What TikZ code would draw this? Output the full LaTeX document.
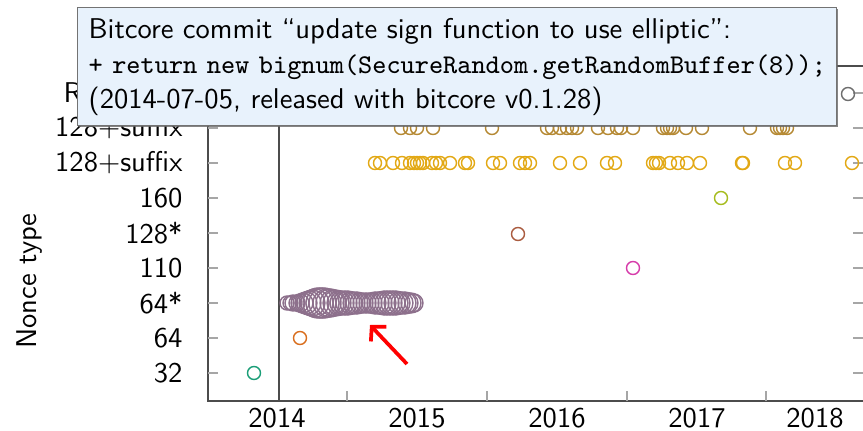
\documentclass[tikz,border=0pt]{standalone}
\usetikzlibrary{shadows,arrows.meta}

\definecolor{notefill}{RGB}{232,242,252}
\definecolor{typegreen}{RGB}{27,158,119}
\definecolor{typeorange}{RGB}{217,110,30}
\definecolor{typemauve}{RGB}{141,112,140}
\definecolor{typemagenta}{RGB}{214,60,170}
\definecolor{typebrown}{RGB}{170,92,64}
\definecolor{typelime}{RGB}{166,188,30}
\definecolor{typegold}{RGB}{226,168,20}
\definecolor{typeochre}{RGB}{181,137,51}
\definecolor{typegray}{RGB}{110,110,110}

\begin{document}
\begin{tikzpicture}[x=0.35pt,y=-0.35pt,
    font=\fontsize{10}{12.25}\selectfont\sffamily,
    nonce/.style ={circle, draw, line width=0.5pt, inner sep=0pt, minimum size=4.55pt},
    axisline/.style ={draw=black!70, line width=0.45pt},
    tickmark/.style ={draw=black!35, line width=0.45pt},
    typelabel/.style ={anchor=east, inner sep=0pt},
    note/.style ={draw=black!55, fill=notefill, line width=0.45pt, align=left,
        text width=258pt, inner xsep=3.85pt, inner ysep=3.6pt,
        drop shadow={shadow xshift=0.5pt, shadow yshift=-0.5pt, fill=black!60, opacity=0.8}}]
   \useasboundingbox (0,0) rectangle (863,431);

   % frame and ticks
   \draw[axisline] (208,66) -- (208,401) -- (863,401);
   \draw[axisline] (208,66) -- (863,66);
   \draw[axisline] (279,66) -- (279,401);
   \foreach \y in {93,128,...,373} {
     \draw[tickmark] (208,\y) -- (218,\y);
     \draw[tickmark] (853,\y) -- (863,\y);
   }
   \foreach \x in {347,487,627,766}
     \draw[tickmark] (\x,391) -- (\x,401);

   % axis labels
   \node[typelabel] (t9) at (183,93)  {RFC 6979};
   \node[typelabel] (t8) at (183,128) {128+suffix};
   \node[typelabel] (t7) at (183,163) {128+suffix};
   \node[typelabel] (t6) at (183,198) {160};
   \node[typelabel] (t5) at (183,233) {128*};
   \node[typelabel] (t4) at (183,268) {110};
   \node[typelabel] (t3) at (183,303) {64*};
   \node[typelabel] (t2) at (183,338) {64};
   \node[typelabel] (t1) at (183,373) {32};
   \node[rotate=90] (ytitle) at (30,281) {Nonce type};

   \node (y2014) at (277,418) {2014};
   \node (y2015) at (417,418) {2015};
   \node (y2016) at (557,418) {2016};
   \node (y2017) at (697,418) {2017};
   \node (y2018) at (815,418) {2018};

   % single nonces
   \node[nonce,typegreen]   (g)  at (254,373) {};
   \node[nonce,typeorange]  (o)  at (300,338) {};
   \node[nonce,typebrown]   (b)  at (518,234) {};
   \node[nonce,typemagenta] (m)  at (633,268) {};
   \node[nonce,typelime]    (l)  at (721,198) {};
   \node[nonce,typegray]    (r)  at (848,94)  {};

   % 64* cluster
   \foreach \x/\r [count=\i] in {287/7,290/7,293/8,297/8,300/9,303/10,306/11,309/12,
       312/13,315/14,318/15,321/15,324/15,327/14,330/14,333/13,336/13,339/12,
       342/12,345/12,348/12,351/11,354/11,357/11,360/10,363/10,366/10,369/10,
       372/10,375/11,378/11,381/11,384/12,387/12,390/12,393/12,396/12,399/11,
       402/11,405/11,408/10,411/10,414/9}
     \node[nonce,typemauve,minimum size={0.7*\r pt}] (p\i) at (\x,303) {};

   % 128+suffix rows
   \foreach \x [count=\i] in {401,410,417,433,492,547,552,560,567,572,577,598,608,
       617,621,633,663,667,670,673,686,702,750,777,780,783,787}
     \node[nonce,typeochre] (u\i) at (\x,128) {};
   \foreach \x [count=\i] in {375,380,393,402,410,414,417,420,423,432,436,440,450,
       465,468,493,500,520,525,530,560,580,607,615,653,656,659,670,678,687,
       700,742,743,785,795,852}
     \node[nonce,typegold] (s\i) at (\x,163) {};

   % commit note
   \node[note, anchor=north west] (commit) at (77,7)
     {Bitcore commit “update sign function to use elliptic”:\\
      \mbox{\fontsize{9.45}{12.25}\selectfont\ttfamily + return new bignum(SecureRandom.getRandomBuffer(8));}\\
      (2014-07-05, released with bitcore v0.1.28)};

   % arrow to the cluster
   \coordinate (tail) at (407,364);
   \coordinate (head) at (370,325);
   \draw[red, line width=1.3pt, -{Straight Barb[length=3.5pt,width=7.5pt]}] (tail) -- (head);
 \end{tikzpicture}
\end{document}
